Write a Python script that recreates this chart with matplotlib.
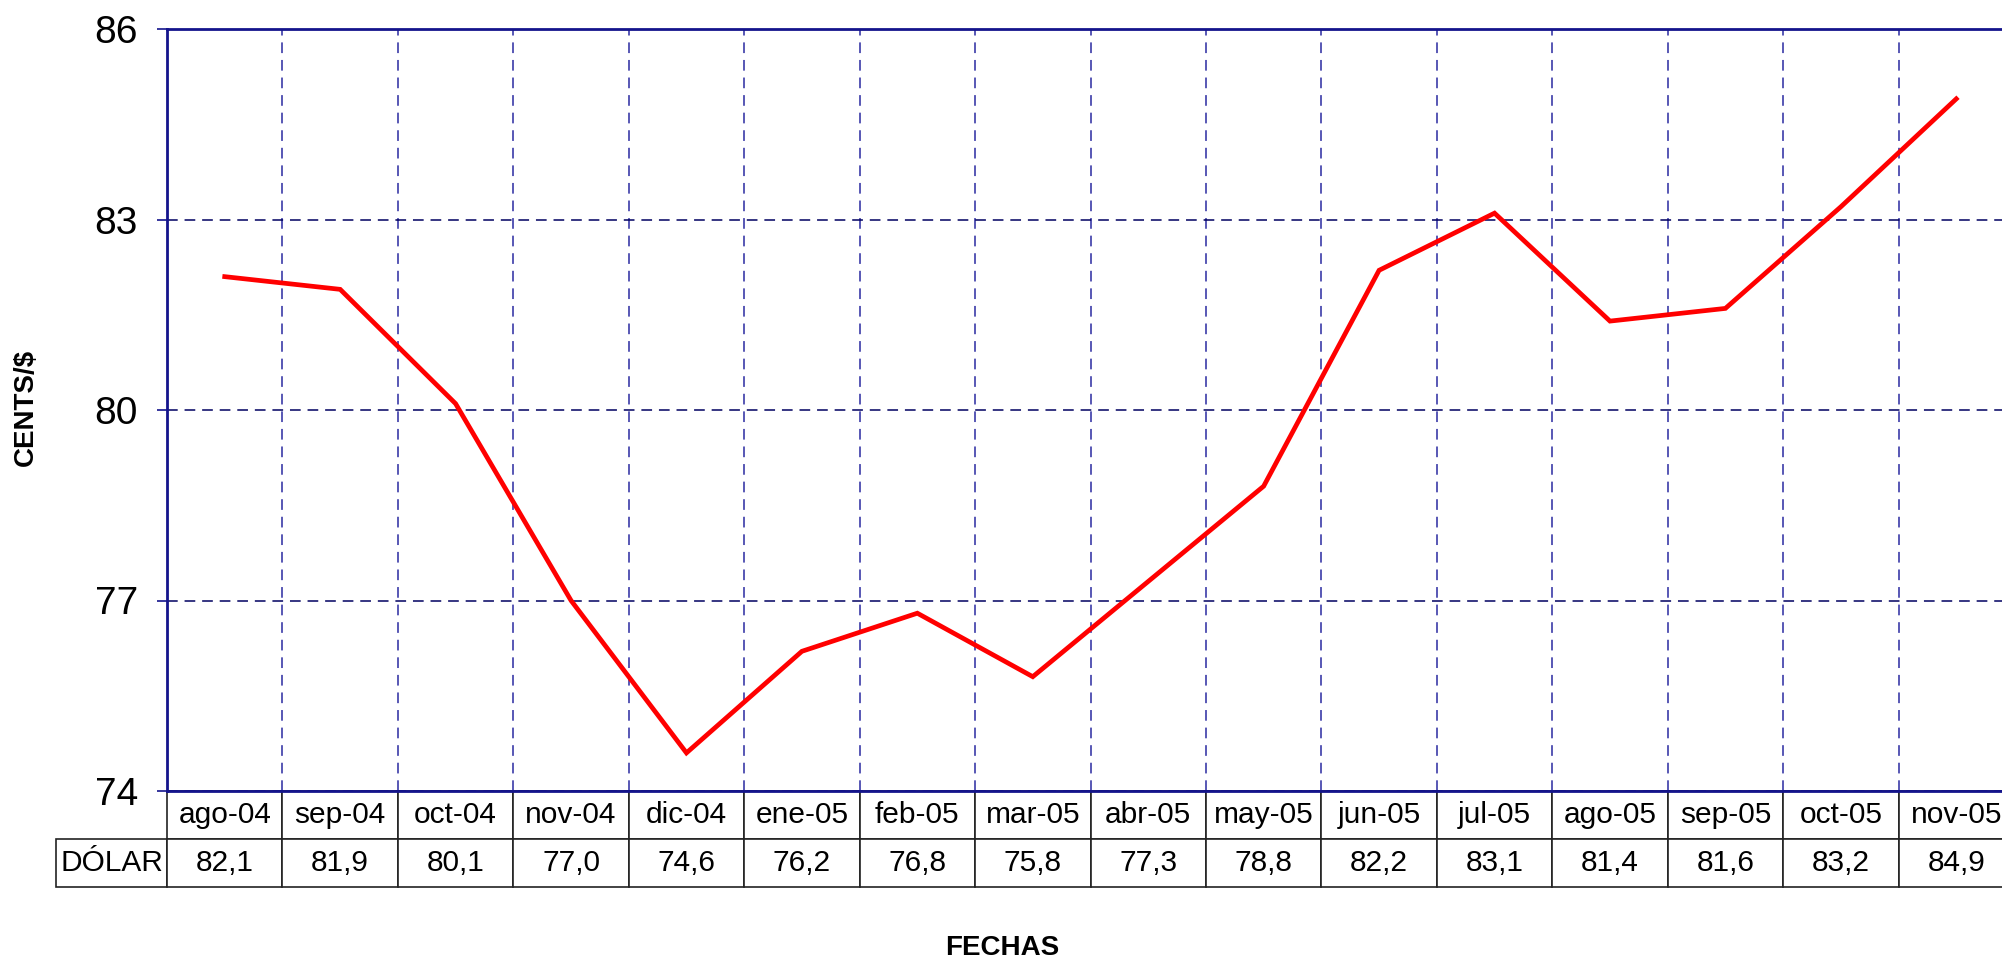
import matplotlib.pyplot as plt
import numpy as np
from matplotlib.table import Table

plt.rcParams['font.family'] = ['Liberation Sans', 'DejaVu Sans']

meses = ['ago-04', 'sep-04', 'oct-04', 'nov-04', 'dic-04', 'ene-05', 'feb-05', 'mar-05',
         'abr-05', 'may-05', 'jun-05', 'jul-05', 'ago-05', 'sep-05', 'oct-05', 'nov-05']
dolar = [82.1, 81.9, 80.1, 77.0, 74.6, 76.2, 76.8, 75.8,
         77.3, 78.8, 82.2, 83.1, 81.4, 81.6, 83.2, 84.9]
yticks = [74, 77, 80, 83, 86]

navy = '#14148c'

fig = plt.figure(figsize=(20.02, 9.59), dpi=100)
ax = fig.add_axes([167 / 2002, 168 / 959, 1847 / 2002, 762 / 959])

x = np.arange(len(meses))
ax.plot(x, dolar, color='#ff0000', lw=3.4, zorder=3, solid_joinstyle='miter')

ax.set_xlim(-0.5, len(meses) - 0.5)
ax.set_ylim(74, 86)
ax.set_yticks(yticks)
ax.set_yticklabels([str(v) for v in yticks], fontsize=28)
ax.tick_params(axis='y', length=7, width=1.2, color=navy, pad=14)

# category boundaries for the vertical grid
ax.set_xticks(x)
ax.set_xticks(x[:-1] + 0.5, minor=True)
ax.tick_params(axis='x', which='both', length=0, labelbottom=False)
ax.grid(axis='y', which='major', color='#000060', lw=1.1, dashes=(7, 4.5))
ax.grid(axis='x', which='minor', color='#2a2aa0', lw=1.1, dashes=(7, 4.5))

for s in ['left', 'top', 'bottom']:
    ax.spines[s].set_color(navy)
    ax.spines[s].set_linewidth(2)
ax.spines['right'].set_visible(False)

# data table under the axis
colw = 1 / len(meses)
rlw = colw * 111 / 115.4
h = 0.5
tab = Table(ax, bbox=[0, -96 / 762, 1, 96 / 762])
for j, m in enumerate(meses):
    tab.add_cell(0, j, width=colw, height=h, text=m, loc='center')
    tab.add_cell(1, j, width=colw, height=h, text=f'{dolar[j]:.1f}'.replace('.', ','), loc='center')
tab.add_cell(1, -1, width=rlw, height=h, text='DÓLAR', loc='center')
tab.auto_set_font_size(False)
tab.set_fontsize(21.5)
for cell in tab.get_celld().values():
    cell.set_edgecolor('#222222')
    cell.set_linewidth(1.2)
ax.add_table(tab)

fig.text(26 / 2002, 1 - 407 / 959, 'CENTS/$', rotation=90, fontsize=20,
         fontweight='bold', ha='center', va='center')
fig.text(1002 / 2002, 1 - 948 / 959, 'FECHAS', fontsize=20,
         fontweight='bold', ha='center', va='center')

plt.savefig('out.png', dpi=100)
